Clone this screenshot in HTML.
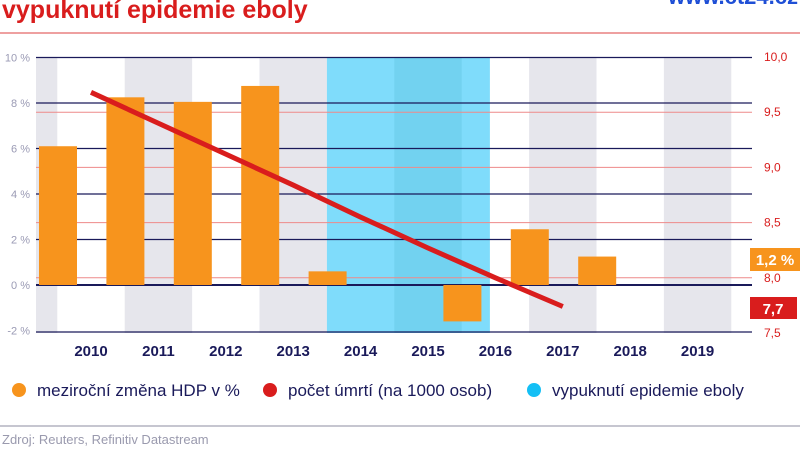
<!DOCTYPE html>
<html><head><meta charset="utf-8"><style>
body{margin:0;width:800px;height:449px;background:#fff;overflow:hidden;font-family:"Liberation Sans",sans-serif}
</style></head><body>
<svg id="c" width="800" height="449" xmlns="http://www.w3.org/2000/svg">
<text x="2" y="18" font-size="25" font-weight="bold" fill="#d91d1d">vypuknutí epidemie eboly</text>
<text x="798" y="4" text-anchor="end" font-size="22" font-weight="bold" fill="#1f4fd6">www.ct24.cz</text>
<line x1="0" y1="33" x2="800" y2="33" stroke="#e88080" stroke-width="1.5"/>
<g id="bands"></g><g id="grid"></g><g id="bars"></g><g id="line"></g><g id="axes"></g>
<rect x="750" y="248" width="50" height="23" fill="#f7941d"/>
<text x="775" y="265" text-anchor="middle" font-size="15" font-weight="bold" fill="#fff">1,2 %</text>
<rect x="750" y="297" width="47" height="22" fill="#d91d1d"/>
<text x="773" y="314" text-anchor="middle" font-size="15" font-weight="bold" fill="#fff">7,7</text>
<g font-size="17" fill="#1a1a5a">
<circle cx="19" cy="390" r="7" fill="#f7941d"/>
<text x="37" y="396" fill="#1a1a5a">meziroční změna HDP v %</text>
<circle cx="270" cy="390" r="7" fill="#d91d1d"/>
<text x="288" y="396" fill="#1a1a5a">počet úmrtí (na 1000 osob)</text>
<circle cx="534" cy="390" r="7" fill="#14bff5"/>
<text x="552" y="396" fill="#1a1a5a">vypuknutí epidemie eboly</text>
</g>
<line x1="0" y1="426" x2="800" y2="426" stroke="#c6c6d0" stroke-width="2"/>
<text x="2" y="444" font-size="13" fill="#9a9aae">Zdroj: Reuters, Refinitiv Datastream</text>
</svg>
<script>
const years=[2010,2011,2012,2013,2014,2015,2016,2017,2018,2019];
const barPos=[0,1,2,3,4,6,7,8];
const gdpValues=[6.1,8.25,8.05,8.75,0.6,-1.6,2.45,1.25];
const deathYears=[2010,2011,2012,2013,2014,2015,2016,2017];
const deathValues=[9.68,9.40,9.12,8.84,8.55,8.27,8.0,7.74];
const leftTicks=[10,8,6,4,2,0,-2];
const rightTicks=[10,9.5,9,8.5,8,7.5];
const NS="http://www.w3.org/2000/svg";
const yL=v=>285-v*22.75;
const yR=v=>57+(10-v)*110.4;
const xY=i=>91+67.4*i;
function mk(p,t,a){const e=document.createElementNS(NS,t);for(const k in a)e.setAttribute(k,a[k]);document.getElementById(p).appendChild(e);return e;}
for(let i=-1;i<10;i++){
 const x0=xY(i)-33.7;
 if(i%2==-1||i%2==1){if(i===5)continue;const r=mk('bands','rect',{x:Math.max(36,x0),y:57,width:Math.min(x0+67.4,752)-Math.max(36,x0),height:276,fill:'#e6e6ec'});
 
 }
}
const eb=mk('bands','rect',{x:xY(3)+33.7,y:57,width:163,height:276,fill:'#7fdcfb'});


const eb2=mk('bands','rect',{x:xY(4)+33.7,y:57,width:67.4,height:276,fill:'#72d2f0'});


leftTicks.forEach(v=>{
 const yy=v===-2?332:yL(v);
 const l=mk('grid','line',{x1:36,x2:752,y1:yy,y2:yy,stroke:'#1a1a5a','stroke-width':v===0?2:1.3});
 
 
 const t=mk('axes','text',{x:30,y:yL(v)+4,'text-anchor':'end','font-size':11,fill:'#9a9ab4'});
 t.textContent=v+' %';
 
 
});
rightTicks.forEach(v=>{
 if(v<10&&v>7.5){const l=mk('grid','line',{x1:36,x2:752,y1:yR(v),y2:yR(v),stroke:'#ee8a8a','stroke-width':1});
 
 }
 const t=mk('axes','text',{x:764,y:yR(v)+4,'font-size':12,fill:'#d91d1d'});
 t.textContent=v.toFixed(1).replace('.',',');
 
 
});
gdpValues.forEach((v,i)=>{
 const cx=xY(barPos[i])-33;
 const y0=yL(0),y1=yL(v);
 const r=mk('bars','rect',{x:cx-19,y:Math.min(y0,y1),width:38,height:Math.abs(y1-y0),fill:'#f7941d'});
 
 
});
const pts=deathYears.map((y,i)=>xY(years.indexOf(y))+','+yR(deathValues[i])).join(' ');
const pl=mk('line','polyline',{points:pts,fill:'none',stroke:'#d91d1d','stroke-width':5});


years.forEach((y,i)=>{
 const t=mk('axes','text',{x:xY(i),y:356,'text-anchor':'middle','font-size':15,'font-weight':'bold',fill:'#1a1a5a'});
 t.textContent=y;
 
 
});
</script>
</body></html>
